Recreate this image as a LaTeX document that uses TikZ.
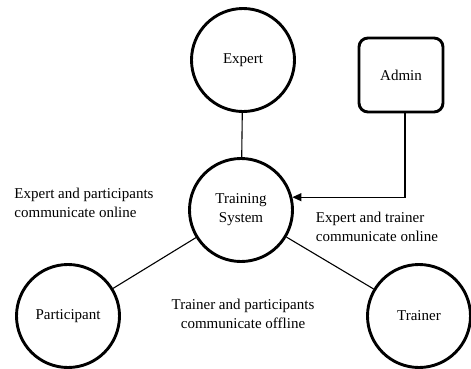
\documentclass[tikz,border=0pt]{standalone}
\usepackage{fontspec}
\setmainfont{Liberation Serif}
\usetikzlibrary{arrows.meta}

\begin{document}
\begin{tikzpicture}[x=1pt, y=-1pt,
		actor_style/.style={circle,draw=black,line width=2.9pt,minimum size=103pt,inner sep=0pt,font=\fontsize{15}{19}\selectfont,align=center},
		admin_style/.style={rectangle,rounded corners=9pt,draw=black,line width=2.9pt,minimum width=84pt,minimum height=74pt,font=\fontsize{15}{19}\selectfont},
		label_style/.style={font=\fontsize{15}{19}\selectfont,inner sep=0pt},
		edge_style/.style={draw=black,line width=1.1pt}]
		
		\useasboundingbox (0,0) rectangle (471,368);
		
		\node[actor_style] (expert) at (243,60)  {Expert};
		\node[admin_style] (admin) at (401,75)  {Admin};
		\node[actor_style] (training) at (241,210)  {Training\\System};
		\node[actor_style] (participant) at (68,316)  {Participant};
		\node[actor_style] (trainer) at (419,316)  {Trainer};
		
		\node[label_style,align=left] (lbl_online) at (84,203)  {Expert and participants\\communicate online};
		\node[label_style,align=left] (lbl_trainer) at (377,227)  {Expert and trainer\\communicate online};
		\node[label_style,align=center] (lbl_offline) at (243,314)  {Trainer and participants\\communicate offline};
		
		\draw[edge_style]  (expert) -- (training);
		\draw[edge_style]  (training) -- (participant);
		\draw[edge_style]  (training) -- (trainer);
		\draw[edge_style,-{Triangle[length=9pt,width=8pt]}]  ([xshift=4pt]admin.south) |- (training.14);
\end{tikzpicture}
\end{document}
